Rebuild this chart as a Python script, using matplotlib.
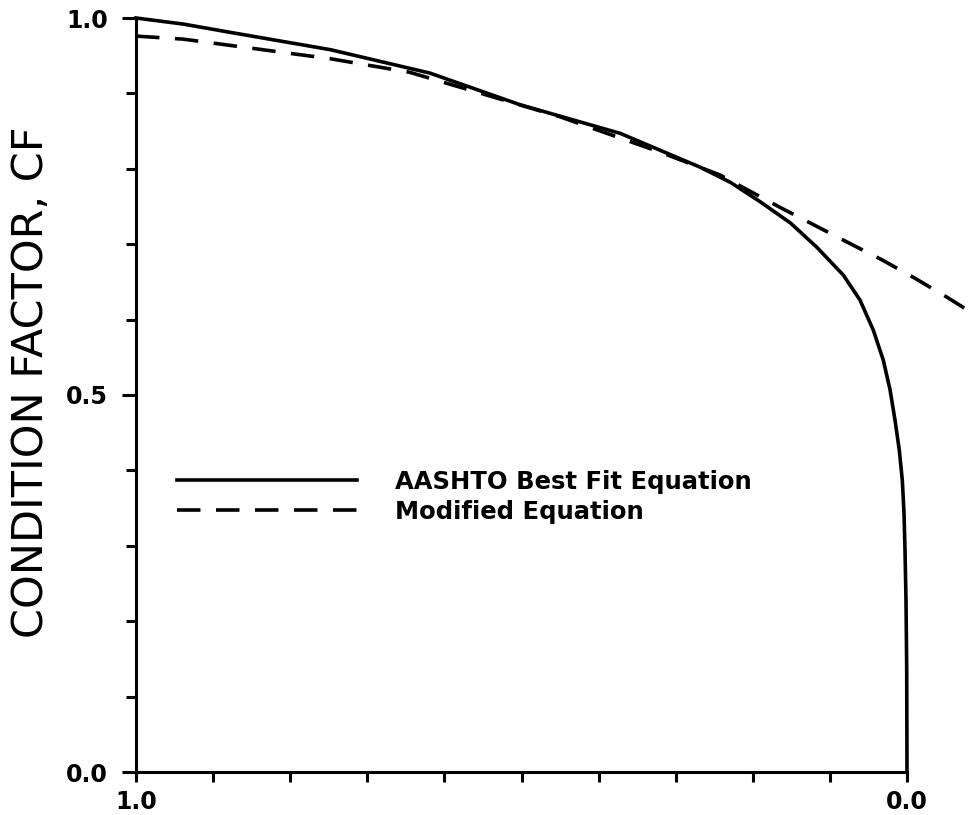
import numpy as np
import matplotlib
matplotlib.use('Agg')
from matplotlib import pyplot as plt
from matplotlib.ticker import MultipleLocator, FixedLocator

# values
aashto_x = [1.0, 0.939, 0.878, 0.748, 0.619, 0.502, 0.372, 0.268, 0.229, 0.190,
            0.151, 0.117, 0.0826, 0.061, 0.0437, 0.0307, 0.0220, 0.0156, 0.0100,
            0.0061, 0.0039, 0.0026, 0.0013, 0.0004, 0.0]
aashto_y = [1.0, 0.992, 0.981, 0.958, 0.927, 0.885, 0.847, 0.802, 0.782, 0.756,
            0.728, 0.696, 0.659, 0.626, 0.586, 0.546, 0.507, 0.467, 0.427,
            0.387, 0.344, 0.295, 0.228, 0.139, 0.0]

modified_x = [1.0, 0.939, 0.748, 0.645, 0.450, 0.320, 0.243, 0.165, 0.078,
              0.032, -0.010, -0.053, -0.084]
modified_y = [0.976, 0.972, 0.946, 0.928, 0.869, 0.822, 0.792, 0.749, 0.703,
              0.679, 0.655, 0.629, 0.609]

x_ticks = [1.0, 0.0]
x_tick_labels = ['1.0', '0.0']
y_ticks = [0.0, 0.5, 1.0]
y_tick_labels = ['0.0', '0.5', '1.0']

fig = plt.figure(figsize=(9.73, 8.15), dpi=100)
ax = fig.add_axes([136 / 973, 1 - 772 / 815, 1 - 136 / 973, (772 - 18) / 815])

ax.plot(aashto_x, aashto_y, color='black', lw=2.6, clip_on=False,
        solid_joinstyle='round', label='AASHTO Best Fit Equation')
ax.plot(modified_x, modified_y, color='black', lw=2.6, dashes=(6.5, 4.3),
        label='Modified Equation')

ax.set_xlim(1.0, -0.0856)
ax.set_ylim(0.0, 1.0)

for side in ['top', 'right']:
    ax.spines[side].set_visible(False)
ax.spines['left'].set_linewidth(2.2)
ax.spines['bottom'].set_linewidth(2.2)
ax.spines['bottom'].set_bounds(0.0, 1.0)

ax.xaxis.set_major_locator(FixedLocator(x_ticks))
ax.set_xticklabels(x_tick_labels)
ax.xaxis.set_minor_locator(MultipleLocator(0.1))
ax.yaxis.set_major_locator(FixedLocator(y_ticks))
ax.set_yticklabels(y_tick_labels)
ax.yaxis.set_minor_locator(MultipleLocator(0.1))

ax.tick_params(which='both', direction='out', width=2.2, labelsize=17)
ax.tick_params(axis='y', which='major', length=10, pad=10)
ax.tick_params(axis='y', which='minor', length=7)
ax.tick_params(axis='x', which='both', length=7, pad=6)
for lab in ax.get_xticklabels() + ax.get_yticklabels():
    lab.set_fontweight('bold')

ax.set_ylabel('CONDITION FACTOR, CF', fontsize=31, color='black', va='center')
ax.yaxis.set_label_coords(-0.125, 0.517)

ax.legend(loc='center left', bbox_to_anchor=(0.049, 0.365), frameon=False,
          borderaxespad=0, borderpad=0, handlelength=7.4, handletextpad=1.56,
          labelspacing=0.25, prop={'size': 17.5, 'weight': 'bold'})

fig.savefig('out.png', dpi=100)
